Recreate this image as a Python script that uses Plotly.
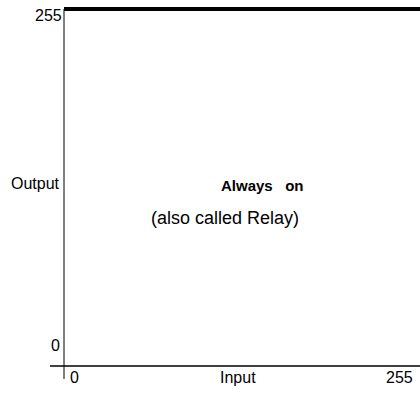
import plotly.graph_objects as go

# Data
input_values = [0, 255]
output_values = [255, 255]
x_tick_labels = ["0", "255"]
y_tick_labels = ["0", "255"]
x_title = "Input"
y_title = "Output"
chart_title = "Always&nbsp;&nbsp; on"
subtitle = "(also called Relay)"

W, H = 420, 394
ML, MR, MT, MB = 50, 0, 0, 15
PW, PH = W - ML - MR, H - MT - MB

xr = [-10.03, 255]
yr = [-9.29, 261.43]

FONT = "Liberation Sans, Arial, sans-serif"

fig = go.Figure()
fig.add_trace(go.Scatter(
    x=input_values, y=output_values, mode="lines",
    line=dict(color="black", width=4), cliponaxis=False, hoverinfo="skip",
))

# axis lines (y axis runs below x axis, x axis runs left of y axis)
fig.add_shape(type="line", xref="x", yref="y", x0=0, x1=0, y0=yr[0], y1=output_values[0],
              line=dict(color="black", width=1))
fig.add_shape(type="line", xref="x", yref="y", x0=xr[0], x1=xr[1], y0=0, y1=0,
              line=dict(color="black", width=1.3))

def px2paper(px, py):
    return (px - ML) / PW, (H - MB - py) / PH

def ann(text, px, py, xanchor="center", size=16):
    x, y = px2paper(px, py)
    fig.add_annotation(x=x, y=y, xref="paper", yref="paper", text=text, showarrow=False,
                       xanchor=xanchor, yanchor="middle",
                       font=dict(family=FONT, size=size, color="black"),
                       borderpad=0)

ann(y_tick_labels[1], 63, 15, "right")
ann(y_tick_labels[0], 61, 345, "right")
ann(y_title, 61, 183, "right")
ann(x_tick_labels[0], 69, 377, "left")
ann(x_title, 238, 377)
ann(x_tick_labels[1], 399, 377)
ann("<b>" + chart_title + "</b>", 262, 185, size=15)
ann(subtitle, 225, 218, size=18)

fig.update_xaxes(range=xr, visible=False, showgrid=False, zeroline=False)
fig.update_yaxes(range=yr, visible=False, showgrid=False, zeroline=False)
fig.update_layout(
    width=W, height=H, margin=dict(l=ML, r=MR, t=MT, b=MB),
    plot_bgcolor="white", paper_bgcolor="white", showlegend=False,
    font=dict(family=FONT),
)
fig.write_html("out.html", config={"displayModeBar": False},
               post_script="document.body.style.margin='0';document.body.style.overflow='hidden';")
